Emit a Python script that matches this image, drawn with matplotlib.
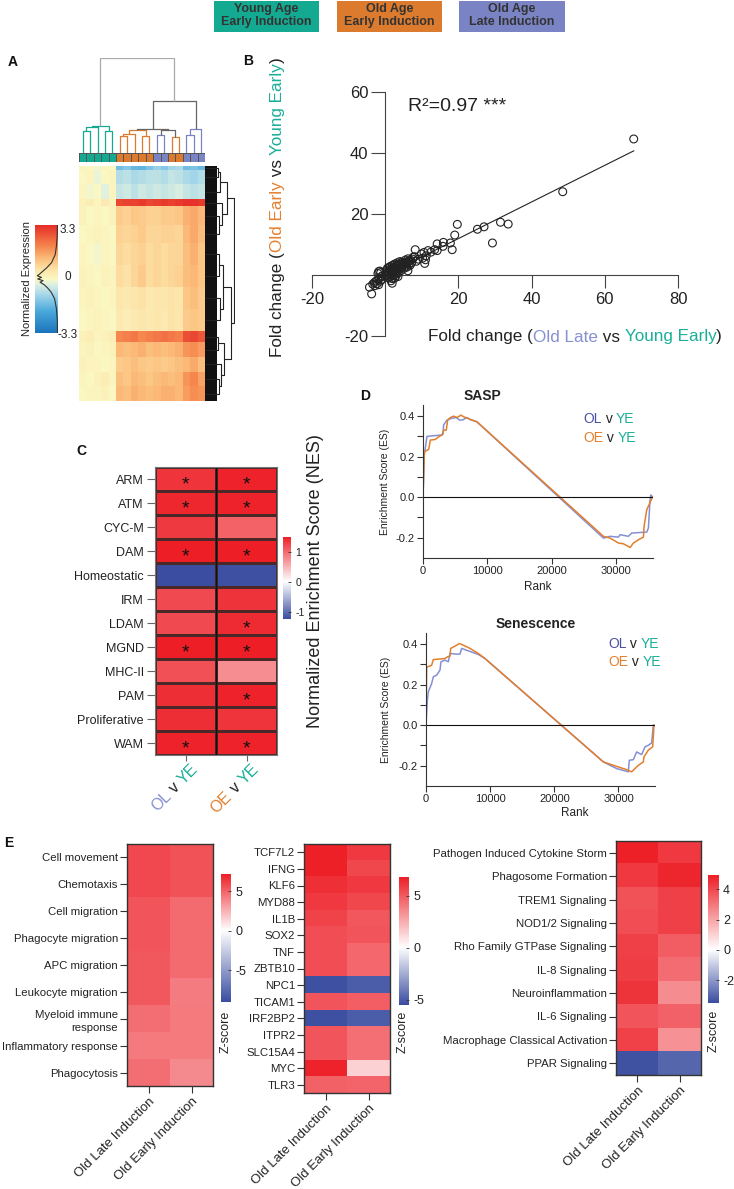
import numpy as np
import matplotlib
matplotlib.use('Agg')
import matplotlib.pyplot as plt
from matplotlib.colors import LinearSegmentedColormap, ListedColormap
from matplotlib.patches import Rectangle
from matplotlib.ticker import FixedLocator, FormatStrFormatter

plt.rcParams['font.family'] = ['Liberation Sans', 'DejaVu Sans']
plt.rcParams['axes.linewidth'] = 0.8
plt.rcParams['axes.unicode_minus'] = False

# ----------------------------------------------------------------- data
group_labels = ['Young Age\nEarly Induction', 'Old Age\nEarly Induction', 'Old Age\nLate Induction']

# Panel A: heatmap (row bands x 17 samples), column groups
col_groups = ['Y'] * 5 + ['O'] * 5 + ['L'] * 2 + ['O'] * 2 + ['L'] * 3
band_rows = [1, 4, 4, 2, 5, 5, 6, 6, 6, 6, 3, 4, 4, 4, 4]
band_values = [
    [0.1, 0.0, -0.1, 0.1, 0.0, -1.5, -1.3, -1.6, -1.7, -1.4, -1.1, -1.3, -1.0, -0.9, -1.5, -1.4, -1.6],
    [0.0, 0.1, -0.2, 0.0, 0.1, -0.8, -0.7, -0.9, -0.8, -0.7, -0.7, -0.8, -0.6, -0.7, -0.9, -1.0, -0.8],
    [0.1, -0.1, 0.0, -0.3, 0.1, -0.6, -0.5, -0.7, -0.5, -0.6, -0.5, -0.6, -0.5, -0.4, -0.6, -0.7, -0.6],
    [0.2, 0.3, 0.1, 0.4, 0.2, 2.9, 3.0, 3.0, 3.1, 2.9, 3.0, 3.1, 3.0, 3.1, 3.2, 3.2, 3.1],
    [0.2, 0.0, 0.1, 0.0, 0.2, 1.0, 0.9, 1.1, 1.0, 0.9, 0.9, 1.0, 1.0, 1.1, 1.4, 1.5, 1.3],
    [0.0, 0.1, 0.2, 0.1, 0.0, 0.9, 0.8, 0.9, 1.0, 0.8, 0.8, 0.9, 0.9, 0.8, 1.3, 1.5, 1.2],
    [0.1, 0.0, -0.1, 0.1, 0.0, 0.8, 0.7, 0.8, 0.9, 0.7, 0.8, 0.7, 0.8, 0.8, 1.2, 1.4, 1.1],
    [0.2, 0.1, 0.0, 0.2, 0.1, 0.7, 0.6, 0.8, 1.0, 0.7, 0.8, 0.7, 0.8, 0.9, 1.2, 1.3, 1.1],
    [0.1, 0.2, 0.1, 0.0, 0.1, 0.5, 0.4, 0.5, 0.6, 0.4, 0.5, 0.5, 0.6, 0.5, 1.1, 1.2, 1.0],
    [0.0, 0.1, 0.2, 0.1, 0.0, 0.4, 0.3, 0.4, 0.5, 0.4, 0.5, 0.4, 0.6, 0.5, 1.0, 1.1, 1.0],
    [0.2, 0.3, 0.1, 0.2, 0.3, 2.0, 2.1, 2.2, 2.0, 2.1, 2.2, 2.3, 2.2, 2.1, 2.8, 2.9, 2.7],
    [0.1, 0.2, 0.0, 0.1, 0.2, 1.3, 1.2, 1.3, 1.4, 1.2, 1.3, 1.2, 1.3, 1.4, 1.8, 1.9, 1.7],
    [0.2, 0.1, 0.1, 0.0, 0.1, 1.0, 1.1, 1.2, 1.1, 1.0, 1.1, 1.0, 1.1, 1.2, 1.3, 1.5, 1.2],
    [0.1, 0.0, 0.2, 0.3, 0.1, 1.2, 1.1, 1.3, 1.2, 1.1, 1.2, 1.3, 1.2, 1.3, 1.8, 2.0, 1.6],
    [0.0, 0.1, 0.1, 0.2, 0.0, 1.3, 1.2, 1.4, 1.3, 1.2, 1.3, 1.4, 1.4, 1.3, 1.7, 1.9, 1.8],
]
# column dendrogram: (height, left, right), leaves = sample index
col_tree = (1.0,
            (0.29, (0.27, (0.233, 0, 1), 2), (0.233, 3, 4)),
            (0.548,
             (0.258, (0.245, (0.205, (0.18, 5, 6), 7), (0.18, 8, 9)),
              (0.24, (0.19, 10, 11), (0.17, 12, 13))),
             (0.25, (0.19, 14, 15), 16)))
# row dendrogram over bands
row_tree = (0.95,
            (0.72, (0.5, (0.42, 0, 1), 2), (0.56, 3, (0.45, 4, 5))),
            (0.86, (0.6, (0.45, 6, 7), (0.5, 8, 9)),
             (0.64, (0.44, 10, 11), (0.52, 12, (0.47, 13, 14)))))
# density curve in colour key
dens_vals = [3.3, 2.5, 2.0, 1.5, 1.0, 0.7, 0.45, 0.3, 0.2, 0.1, 0.0, -0.1, -0.2, -0.35, -0.55, -0.8, -1.2, -1.8, -2.5, -3.3]
dens_frac = [0.98, 0.96, 0.93, 0.88, 0.72, 0.52, 0.32, 0.2, 0.1, 0.28, 0.12, 0.35, 0.22, 0.4, 0.55, 0.7, 0.85, 0.93, 0.97, 0.98]

# Panel B
fc_ol = [67.9, 48.5, 19.7, 25.2, 27.0, 31.5, 33.6, 29.3, 19.0, 17.8, 18.3, 15.9, 15.8, 14.2, 14.2, 13.5, 11.7, 11.2,
         10.8, 10.6, 9.9, 8.2, 7.6, 9.0, 6.2, 6.7, 10.2, 11.0, 8.5, 12.5,
         -1.8, -1.5, -1.2, -2.0, -1.0, -1.5, -2.0, -2.5, -3.0, -2.2, -1.3, -3.4, -4.3, -3.7, -1.8, -2.8, -1.0, -0.8,
         1.6, 1.9, 2.6, 3.5, 0.5, 0.8, 1.0, 1.2, 1.5, 1.8, 2.0, 2.2, 2.5, 2.8, 3.0, 3.2, 3.5, 3.8, 4.0, 4.2, 4.5,
         4.8, 5.0, 5.2, 5.5, 5.8, 6.0, 6.3, 6.5, 7.0, 7.2, 7.5, 0.3, 0.6, 1.0, 1.4, 2.0, 2.6, 3.3, 4.0, 1.2, 2.0,
         2.8, 3.6, 4.4, 5.2, 6.0, 0.2, 0.9, 1.7, 2.4, 3.1, 3.9, 4.6, 5.6, 6.8, 0.4, 1.3, 2.3, 3.4, 4.5, 5.5, 6.2,
         2.0, 1.0, 3.0, 8.0]
fc_oe = [44.6, 27.3, 16.6, 15.0, 15.8, 17.3, 16.7, 10.5, 13.1, 10.5, 8.3, 10.7, 9.4, 10.2, 8.0, 8.3, 8.0, 6.3,
         3.8, 7.4, 6.9, 8.3, 5.8, 5.2, 1.4, 4.7, 5.5, 5.0, 4.5, 7.5,
         1.1, 1.3, 0.8, 0.5, -0.5, -1.0, -1.5, -2.0, -2.5, -2.8, -2.0, -3.0, -4.0, -6.2, -3.2, -3.5, -1.5, -0.3,
         -1.9, -2.7, -1.0, -0.5, 0.2, 0.6, 1.0, 0.4, 1.5, 0.9, 2.0, 1.3, 2.5, 1.8, 3.0, 2.2, 2.8, 3.3, 2.5, 3.6, 3.0,
         3.8, 3.3, 4.1, 3.6, 4.3, 3.9, 4.5, 3.5, 4.8, 4.0, 5.2, 1.5, 2.2, 2.5, 2.8, 3.2, 3.6, 4.0, 4.4, -0.5, -0.3,
         0.3, 0.8, 1.5, 2.2, 2.6, -0.4, 0.0, 0.2, 0.7, 1.2, 1.9, 2.4, 2.9, 3.2, 0.9, 1.9, 2.6, 3.4, 4.2, 4.9, 5.3,
         -1.2, -1.0, -0.2, 6.0]
r2_text = 'R²=0.97 ***'

# Panel C
c_rows = ['ARM', 'ATM', 'CYC-M', 'DAM', 'Homeostatic', 'IRM', 'LDAM', 'MGND', 'MHC-II', 'PAM', 'Proliferative', 'WAM']
nes_ol = [1.34, 1.42, 1.30, 1.48, -1.23, 1.20, 1.20, 1.48, 1.15, 1.38, 1.38, 1.45]
nes_oe = [1.45, 1.45, 1.04, 1.48, -1.20, 1.35, 1.40, 1.48, 0.75, 1.45, 1.33, 1.45]
sig_ol = [1, 1, 0, 1, 0, 0, 0, 1, 0, 0, 0, 1]
sig_oe = [1, 1, 0, 1, 0, 0, 1, 1, 0, 1, 0, 1]
nes_lim = (-1.23, 1.5)
nes_ticks = [-1, 0, 1]

# Panel D
sasp_ol_rank = [0, 200, 620, 1500, 2950, 3100, 3200, 3700, 4500, 5170, 5700, 6200, 6800, 7400, 8370, 21100,
                28010, 29044, 30336, 30594, 31886, 32403, 34729, 34987, 35245, 35349, 35659]
sasp_ol_es = [0, 0.208, 0.30, 0.303, 0.307, 0.31, 0.356, 0.38, 0.39, 0.393, 0.38, 0.382, 0.393, 0.382, 0.372, 0.0,
              -0.202, -0.193, -0.197, -0.185, -0.193, -0.177, -0.172, -0.152, -0.013, 0.011, 0.0]
sasp_oe_rank = [0, 207, 879, 1137, 1912, 2429, 2946, 3204, 3618, 3824, 4238, 4755, 5271, 5891, 6305, 7339, 8372,
                28010, 29044, 30336, 31111, 32145, 32661, 33437, 34212, 34315, 34729, 35659]
sasp_oe_es = [0, 0.225, 0.236, 0.282, 0.285, 0.298, 0.307, 0.331, 0.331, 0.380, 0.393, 0.40, 0.393, 0.405, 0.397,
              0.384, 0.372, -0.193, -0.202, -0.226, -0.230, -0.248, -0.226, -0.210, -0.197, -0.144, -0.062, 0.003]
sen_ol_rank = [0, 208, 364, 883, 1143, 1662, 2182, 2338, 2961, 3481, 3740, 4675, 5299, 5558, 6597, 8156, 9195,
               27636, 29714, 31532, 31688, 32312, 32831, 33610, 34130, 34649, 35169, 35429]
sen_ol_es = [0, 0.123, 0.165, 0.206, 0.239, 0.247, 0.272, 0.313, 0.321, 0.313, 0.354, 0.351, 0.351, 0.379, 0.367,
             0.349, 0.329, -0.181, -0.214, -0.230, -0.173, -0.170, -0.132, -0.145, -0.107, -0.099, -0.087, 0.0]
sen_oe_rank = [0, 104, 519, 883, 1143, 2961, 3325, 3740, 3844, 4519, 5195, 5818, 6857, 8156, 9195,
               27636, 29974, 31273, 32052, 32571, 33091, 33870, 33974, 34649, 35325, 35532]
sen_oe_es = [0, 0.288, 0.291, 0.296, 0.324, 0.329, 0.337, 0.341, 0.379, 0.390, 0.403, 0.395, 0.379, 0.354, 0.329,
             -0.181, -0.206, -0.219, -0.230, -0.214, -0.198, -0.181, -0.156, -0.123, -0.107, 0.0]
rank_ticks = [0, 10000, 20000, 30000]
es_ticks = [-0.2, 0.0, 0.2, 0.4]

# Panel E
e_cols = ['Old Late Induction', 'Old Early Induction']
e1_rows = ['Cell movement', 'Chemotaxis', 'Cell migration', 'Phagocyte migration', 'APC migration',
           'Leukocyte migration', 'Myeloid immune\nresponse', 'Inflammatory response', 'Phagocytosis']
e1_ol = [5.8, 5.8, 5.4, 5.4, 5.3, 5.3, 4.6, 4.2, 4.6]
e1_oe = [5.45, 5.45, 4.7, 4.7, 4.7, 4.15, 4.2, 4.2, 3.7]
e1_lim = (-9.0, 7.2)
e1_ticks = [-5, 0, 5]
e2_rows = ['TCF7L2', 'IFNG', 'KLF6', 'MYD88', 'IL1B', 'SOX2', 'TNF', 'ZBTB10', 'NPC1', 'TICAM1', 'IRF2BP2',
           'ITPR2', 'SLC15A4', 'MYC', 'TLR3']
e2_ol = [6.7, 6.7, 6.2, 5.9, 5.6, 5.3, 5.3, 5.3, -5.4, 5.1, -5.4, 5.1, 5.1, 6.6, 4.7]
e2_oe = [5.9, 5.5, 5.9, 5.5, 5.0, 5.1, 4.5, 4.5, -5.0, 4.8, -5.0, 4.3, 4.3, 1.35, 4.6]
e2_lim = (-5.5, 6.8)
e2_ticks = [-5, 0, 5]
e3_rows = ['Pathogen Induced Cytokine Storm', 'Phagosome Formation', 'TREM1 Signaling', 'NOD1/2 Signaling',
           'Rho Family GTPase Signaling', 'IL-8 Signaling', 'Neuroinflammation', 'IL-6 Signaling',
           'Macrophage Classical Activation', 'PPAR Signaling']
e3_ol = [4.85, 4.3, 3.75, 3.85, 4.15, 4.2, 4.4, 3.7, 4.1, -3.4]
e3_oe = [4.3, 4.75, 4.15, 4.15, 3.5, 3.2, 2.5, 3.4, 2.35, -3.0]
e3_lim = (-3.5, 4.95)
e3_ticks = [-2, 0, 2, 4]

# ----------------------------------------------------------------- style
TEAL = '#14aa91'; ORANGE = '#dc7b2d'; LAV = '#7a84c4'
T_TEAL = '#1aae98'; T_ORANGE = '#e4802f'; T_LAV = '#8790d2'; T_OLD = '#4b4fa5'
OL_LINE = '#8590d4'; OE_LINE = '#e27f2c'
TXT = '#222222'
BLUE = '#3a4da0'; RED = '#ed1c24'
gcolor = {'Y': TEAL, 'O': ORANGE, 'L': LAV}

W, H = 734, 1189
fig = plt.figure(figsize=(W / 100, H / 100), dpi=100)
fig.patch.set_facecolor('white')
renderer = fig.canvas.get_renderer()


def px_axes(x0, y0, x1, y1):
    return fig.add_axes([x0 / W, 1 - y1 / H, (x1 - x0) / W, (y1 - y0) / H])


def ptext(x, y, s, **kw):
    return fig.text(x / W, 1 - y / H, s, **kw)


def twidth(s, fontsize, weight='normal'):
    t = fig.text(0, 0, s + '|', fontsize=fontsize, weight=weight)
    w1 = t.get_window_extent(renderer).width
    t.set_text('|')
    w2 = t.get_window_extent(renderer).width
    t.remove()
    return w1 - w2


def multitext(x, y, pieces, fontsize, rotation=0, ha='left', va='baseline', weight='normal'):
    full = ''.join(p for p, _ in pieces)
    total = twidth(full, fontsize, weight)
    shift = {'left': 0, 'center': total / 2, 'right': total}[ha]
    th = np.deg2rad(rotation)
    acc = ''
    for p, c in pieces:
        o = twidth(acc, fontsize, weight) if acc else 0.0
        d = o - shift
        ptext(x + d * np.cos(th), y - d * np.sin(th), p, color=c, fontsize=fontsize, rotation=rotation,
              rotation_mode='anchor', ha='left', va=va, weight=weight)
        acc += p


def div_cmap(vmin, vmax):
    m = (0 - vmin) / (vmax - vmin)
    return LinearSegmentedColormap.from_list('d', [(0, BLUE), (m, 'white'), (1, RED)])


def draw_tree(ax, node, leafpos, color_of, orient, lw=0.8):
    if isinstance(node, int):
        return leafpos[node], 0.0, [node]
    h, left, right = node
    p1, h1, l1 = draw_tree(ax, left, leafpos, color_of, orient, lw)
    p2, h2, l2 = draw_tree(ax, right, leafpos, color_of, orient, lw)
    leaves = l1 + l2
    col = color_of(leaves, h)
    if orient == 'top':
        ax.plot([p1, p1, p2, p2], [h1, h, h, h2], color=col, lw=lw, solid_capstyle='butt')
    else:
        ax.plot([h1, h, h, h2], [p1, p1, p2, p2], color=col, lw=lw, solid_capstyle='butt')
    return (p1 + p2) / 2, h, leaves


def panel_label(x, y, s):
    ptext(x, y, s, fontsize=10, weight='bold', ha='center', va='center', color='#111')


# ----------------------------------------------------------------- top legend
for (x0, x1), lab, col in zip([(214, 319), (337, 442), (459, 565)], group_labels, [TEAL, ORANGE, LAV]):
    fig.add_artist(Rectangle((x0 / W, 1 - 32 / H), (x1 - x0) / W, 31 / H, transform=fig.transFigure,
                             facecolor=col, edgecolor='none'))
    ptext((x0 + x1) / 2, 15.5, lab, fontsize=9, weight='bold', color='#333', ha='center', va='center',
          linespacing=1.05)

# ----------------------------------------------------------------- panel A
panel_label(13, 62, 'A')
ncol = len(col_groups)
mat = np.repeat(np.array(band_values), band_rows, axis=0)
nrow = mat.shape[0]
cmapA = LinearSegmentedColormap.from_list('a', [
    (0.0, '#1b74bb'), (0.2, '#4aa8db'), (0.35, '#a3d6ea'), (0.455, '#e1f2e0'), (0.5, '#fbf8c4'),
    (0.59, '#fde3a8'), (0.68, '#fcc17e'), (0.8, '#f6884f'), (1.0, '#e62d28')])
axA = px_axes(79, 166, 205, 401)
axA.imshow(mat, cmap=cmapA, vmin=-3.3, vmax=3.3, aspect='auto', interpolation='nearest',
           extent=[0, ncol, nrow, 0])
axA.set_axis_off()

axS = px_axes(79, 153, 205, 162)
grp_idx = np.array([['Y', 'O', 'L'].index(g) for g in col_groups])[None, :]
axS.pcolormesh(np.arange(ncol + 1), [0, 1], grp_idx, cmap=ListedColormap([TEAL, ORANGE, LAV]), vmin=0, vmax=2,
               edgecolors='#555555', linewidth=0.5)
axS.set_xlim(0, ncol); axS.set_ylim(0, 1)
axS.set_axis_off()

axD = px_axes(79, 58, 205, 153)
leafpos = {i: i + 0.5 for i in range(ncol)}


def col_color(leaves, h):
    gs = set(col_groups[i] for i in leaves)
    if len(gs) == 1:
        return gcolor[gs.pop()]
    return '#aaaaaa' if h > 0.9 else '#666666'


draw_tree(axD, col_tree, leafpos, col_color, 'top', lw=0.9)
axD.set_xlim(0, ncol); axD.set_ylim(0, 1.005)
axD.set_axis_off()

axR = px_axes(205, 166, 235, 401)
starts = np.cumsum([0] + band_rows[:-1])
rowpos = {i: starts[i] + band_rows[i] / 2 for i in range(len(band_rows))}
axR.add_patch(Rectangle((0, 0), 0.4, nrow, facecolor='#111111', edgecolor='none'))
draw_tree(axR, row_tree, rowpos, lambda l, h: '#222222', 'right', lw=0.8)
axR.set_xlim(0, 1); axR.set_ylim(nrow, 0)
axR.set_axis_off()

axK = px_axes(35, 225, 58, 333)
axK.imshow(np.linspace(3.3, -3.3, 256)[:, None], cmap=cmapA, vmin=-3.3, vmax=3.3, aspect='auto',
           extent=[0, 1, -3.3, 3.3])
axK.plot(dens_frac, dens_vals, color='#333333', lw=0.8)
axK.set_xlim(0, 1); axK.set_ylim(-3.3, 3.3)
axK.set_axis_off()
for v, yy in [('3.3', 230), ('0', 277), ('-3.3', 335)]:
    ptext(68, yy, v, fontsize=8.5, ha='center', va='center', color=TXT)
ptext(27, 279, 'Normalized Expression', fontsize=8, rotation=90, ha='center', va='center', color=TXT)

# ----------------------------------------------------------------- panel B
panel_label(248, 61, 'B')
axB = px_axes(312, 92, 678, 336)
axB.scatter(fc_ol, fc_oe, s=32, facecolors='none', edgecolors='#222222', linewidths=0.8, zorder=3)
xo = np.array(fc_ol); yo = np.array(fc_oe)
k, b0 = np.polyfit(xo, yo, 1)
xl = np.array([xo.min(), xo.max()])
axB.plot(xl, k * xl + b0, color='#222222', lw=0.8, zorder=2)
axB.set_xlim(-20, 80); axB.set_ylim(-20, 60)
axB.spines['left'].set_position(('data', 0))
axB.spines['bottom'].set_position(('data', 0))
axB.spines[['top', 'right']].set_visible(False)
for s in ['left', 'bottom']:
    axB.spines[s].set_color('#444444')
axB.set_xticks([-20, 20, 40, 60, 80]); axB.set_yticks([-20, 20, 40, 60])
axB.tick_params(axis='x', length=9, width=0.8, pad=3.5, labelsize=12, color='#444444', labelcolor=TXT)
axB.tick_params(axis='y', length=10, width=0.8, pad=2, labelsize=12, color='#444444', labelcolor=TXT)
ptext(408, 111, r2_text, fontsize=14, color=TXT, va='baseline')
multitext(428, 341.5, [('Fold change (', TXT), ('Old Late', T_LAV), (' vs ', TXT), ('Young Early', T_TEAL),
                       (')', TXT)], fontsize=12.3)
multitext(282, 357, [('Fold change (', TXT), ('Old Early', T_ORANGE), (' vs ', TXT), ('Young Early', T_TEAL),
                     (')', TXT)], fontsize=12.3, rotation=90)

# ----------------------------------------------------------------- panel C
panel_label(81, 451, 'C')
axC = px_axes(155, 467, 277, 755)
cmapC = div_cmap(*nes_lim)
dataC = np.array([nes_ol, nes_oe]).T
axC.pcolormesh(np.arange(3), np.arange(len(c_rows) + 1), dataC, cmap=cmapC, vmin=nes_lim[0], vmax=nes_lim[1],
               edgecolors='#4a2828', linewidth=0.9)
axC.axvline(1, color='#111111', lw=1.0)
axC.set_xlim(0, 2); axC.set_ylim(len(c_rows), 0)
axC.set_yticks(np.arange(len(c_rows)) + 0.5)
axC.set_yticklabels(c_rows, fontsize=9, color=TXT)
axC.set_xticks([0.5, 1.5]); axC.set_xticklabels([])
axC.tick_params(axis='y', length=6, width=0.8, pad=2, color='#666666')
axC.tick_params(axis='x', length=4, width=0.8, color='#666666')
for s in axC.spines.values():
    s.set_color('#777777')
for i in range(len(c_rows)):
    for j, sig in enumerate([sig_ol[i], sig_oe[i]]):
        if sig:
            axC.text(j + 0.5, i + 0.5 + 0.45, '*', fontsize=14, ha='center', va='baseline', color='#111')
multitext(190, 762, [('OL', T_LAV), (' v ', TXT), ('YE', T_TEAL)], fontsize=11.5, rotation=45, ha='right',
          va='top')
multitext(251, 762, [('OE', T_ORANGE), (' v ', TXT), ('YE', T_TEAL)], fontsize=11.5, rotation=45, ha='right',
          va='top')
axCK = px_axes(283, 537, 291, 619)
axCK.imshow(np.linspace(nes_lim[1], nes_lim[0], 256)[:, None], cmap=cmapC, vmin=nes_lim[0], vmax=nes_lim[1],
            aspect='auto', extent=[0, 1, nes_lim[0], nes_lim[1]])
axCK.set_xlim(0, 1); axCK.set_ylim(*nes_lim)
axCK.set_xticks([])
axCK.yaxis.tick_right()
axCK.set_yticks(nes_ticks)
axCK.tick_params(axis='y', length=2, width=0.6, direction='in', pad=3, labelsize=7.5, color='#333',
                 labelcolor=TXT)
for s in axCK.spines.values():
    s.set_visible(False)
ptext(316, 581, 'Normalized Enrichment Score (NES)', fontsize=13, rotation=90, ha='center', va='center',
      color=TXT)

# ----------------------------------------------------------------- panel D
panel_label(365, 396, 'D')


def gsea(rect, title, title_xy, ol_r, ol_es, oe_r, oe_es, xmax, leg_xy, ylab_xy, rank_xy):
    ax = px_axes(*rect)
    ax.plot(ol_r, ol_es, color=OL_LINE, lw=1.1)
    ax.plot(oe_r, oe_es, color=OE_LINE, lw=1.1)
    ax.axhline(0, color='#111111', lw=0.8)
    ax.set_xlim(0, xmax); ax.set_ylim(-0.3, 0.455)
    ax.spines[['top', 'right']].set_visible(False)
    for s in ['left', 'bottom']:
        ax.spines[s].set_color('#333333')
    ax.set_xticks(rank_ticks); ax.set_yticks(es_ticks)
    ax.yaxis.set_minor_locator(FixedLocator([-0.1, 0.1, 0.3]))
    ax.yaxis.set_major_formatter(FormatStrFormatter('%.1f'))
    ax.tick_params(which='both', length=4, width=0.8, labelsize=8, pad=2, color='#333333', labelcolor=TXT)
    ptext(*title_xy, title, fontsize=10, weight='bold', ha='center', va='center', color=TXT)
    ptext(*ylab_xy, 'Enrichment Score (ES)', fontsize=7.5, rotation=90, ha='center', va='center', color=TXT)
    ptext(*rank_xy, 'Rank', fontsize=8.5, ha='center', va='center', color=TXT)
    lx, ly = leg_xy
    multitext(lx, ly, [('OL', T_OLD), (' v ', TXT), ('YE', T_TEAL)], fontsize=10)
    multitext(lx, ly + 19, [('OE', T_ORANGE), (' v ', TXT), ('YE', T_TEAL)], fontsize=10)
    return ax


gsea((423, 405, 653, 558), 'SASP', (482, 396), sasp_ol_rank, sasp_ol_es, sasp_oe_rank, sasp_oe_es, 35700,
     (583, 422.5), (385, 482), (538, 587))
gsea((426, 633, 655, 786), 'Senescence', (536, 624), sen_ol_rank, sen_ol_es, sen_oe_rank, sen_oe_es, 35690,
     (608, 647.5), (386, 710), (575, 813))

# ----------------------------------------------------------------- panel E
panel_label(9, 843, 'E')


def zheat(rect, rows, ol, oe, lim, cbar_rect, cticks, zlab_xy):
    vmin, vmax = lim
    cmap = div_cmap(vmin, vmax)
    ax = px_axes(*rect)
    ax.imshow(np.array([ol, oe]).T, cmap=cmap, vmin=vmin, vmax=vmax, aspect='auto', interpolation='nearest')
    ax.set_yticks(range(len(rows)))
    ax.set_yticklabels(rows, fontsize=8.2, color=TXT)
    for lab in ax.get_yticklabels():
        lab.set_linespacing(1.45)
    ax.set_xticks([0, 1])
    ax.set_xticklabels(e_cols, rotation=45, ha='right', rotation_mode='anchor', fontsize=9.5, color=TXT)
    ax.tick_params(axis='y', length=5, width=0.8, color='#333333', pad=1.5)
    ax.tick_params(axis='x', length=5, width=0.8, color='#333333', pad=2)
    for s in ax.spines.values():
        s.set_color('#333333'); s.set_linewidth(1.0)
    cax = px_axes(*cbar_rect)
    cax.imshow(np.linspace(vmax, vmin, 256)[:, None], cmap=cmap, vmin=vmin, vmax=vmax, aspect='auto',
               extent=[0, 1, vmin, vmax])
    cax.set_xlim(0, 1); cax.set_ylim(vmin, vmax)
    cax.set_xticks([])
    cax.yaxis.tick_right()
    cax.set_yticks(cticks)
    cax.tick_params(axis='y', length=2, width=0.6, direction='in', pad=3, labelsize=9, color='#333',
                    labelcolor=TXT)
    for s in cax.spines.values():
        s.set_visible(False)
    ptext(*zlab_xy, 'Z-score', fontsize=9, rotation=90, ha='center', va='center', color=TXT)


zheat((127, 844, 213, 1086), e1_rows, e1_ol, e1_oe, e1_lim, (221, 874, 231, 1002), e1_ticks, (226, 1032))
zheat((304, 844, 390, 1093), e2_rows, e2_ol, e2_oe, e2_lim, (399, 877, 409, 1005), e2_ticks, (403, 1032))
zheat((616, 841, 701, 1075), e3_rows, e3_ol, e3_oe, e3_lim, (708, 875, 719, 1003), e3_ticks, (714, 1031))

fig.savefig('out.png', dpi=100, facecolor='white')
